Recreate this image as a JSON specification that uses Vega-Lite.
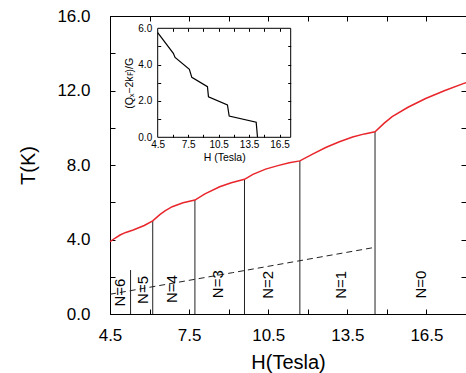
{
  "$schema": "https://vega.github.io/schema/vega-lite/v6.json",
  "width": 356,
  "height": 298,
  "autosize": {"type": "none"},
  "padding": {"left": 110, "top": 16, "right": 0, "bottom": 59},
  "background": "white",
  "config": {
    "view": {"stroke": null},
    "font": "Liberation Sans",
    "axis": {"grid": false, "domainColor": "black", "labelColor": "black", "titleColor": "black", "titleFontWeight": "normal", "labelFont": "Liberation Sans", "titleFont": "Liberation Sans"}
  },
  "datasets": {
    "curve": [
      {"H": 4.5, "T": 3.88}, {"H": 4.7, "T": 4.08}, {"H": 4.88, "T": 4.24}, {"H": 5.1, "T": 4.38},
      {"H": 5.38, "T": 4.51}, {"H": 5.8, "T": 4.75}, {"H": 6.12, "T": 5.0}, {"H": 6.4, "T": 5.35},
      {"H": 6.6, "T": 5.55}, {"H": 6.86, "T": 5.76}, {"H": 7.27, "T": 5.97}, {"H": 7.72, "T": 6.12},
      {"H": 8.1, "T": 6.45}, {"H": 8.66, "T": 6.83}, {"H": 9.1, "T": 7.05}, {"H": 9.6, "T": 7.23},
      {"H": 9.92, "T": 7.5}, {"H": 10.4, "T": 7.78}, {"H": 10.9, "T": 7.98}, {"H": 11.3, "T": 8.12},
      {"H": 11.7, "T": 8.22}, {"H": 12.2, "T": 8.6}, {"H": 12.7, "T": 8.95}, {"H": 13.2, "T": 9.25},
      {"H": 13.7, "T": 9.5}, {"H": 14.15, "T": 9.67}, {"H": 14.55, "T": 9.78}, {"H": 14.9, "T": 10.25},
      {"H": 15.2, "T": 10.6}, {"H": 15.8, "T": 11.1}, {"H": 16.47, "T": 11.57}, {"H": 17.2, "T": 12.0},
      {"H": 17.92, "T": 12.38}, {"H": 18.0, "T": 12.42}
    ],
    "bounds": [
      {"H": 5.28, "T": 2.36}, {"H": 6.12, "T": 5.0}, {"H": 7.72, "T": 6.12},
      {"H": 9.6, "T": 7.23}, {"H": 11.7, "T": 8.22}, {"H": 14.55, "T": 9.78}
    ],
    "dashed": [{"H": 4.5, "T": 1.06}, {"H": 9.15, "T": 2.22}, {"H": 14.55, "T": 3.58}],
    "labels": [
      {"H": 4.88, "T": 1.15, "label": "N=6"}, {"H": 5.74, "T": 1.29, "label": "N=5"},
      {"H": 6.86, "T": 1.34, "label": "N=4"}, {"H": 8.6, "T": 1.6, "label": "N=3"},
      {"H": 10.5, "T": 1.57, "label": "N=2"}, {"H": 13.26, "T": 1.57, "label": "N=1"},
      {"H": 16.3, "T": 1.58, "label": "N=0"}
    ],
    "inset": [
      {"H": 4.5, "Q": 5.76}, {"H": 6.04, "Q": 4.62}, {"H": 6.21, "Q": 4.4}, {"H": 7.62, "Q": 3.74},
      {"H": 7.86, "Q": 3.3}, {"H": 9.4, "Q": 2.79}, {"H": 9.5, "Q": 2.23}, {"H": 11.37, "Q": 1.78},
      {"H": 11.54, "Q": 1.17}, {"H": 14.2, "Q": 0.83}, {"H": 14.33, "Q": 0.0}
    ]
  },
  "resolve": {"scale": {"x": "independent", "y": "independent"}, "axis": {"x": "independent", "y": "independent"}},
  "layer": [
    {
      "data": {"name": "curve"},
      "mark": {"type": "point", "opacity": 0},
      "encoding": {
        "x": {
          "field": "H", "type": "quantitative",
          "scale": {"domain": [4.5, 18], "nice": false, "zero": false},
          "axis": {
            "orient": "bottom", "offset": -298, "title": null, "labels": false,
            "values": [4.5, 6, 7.5, 9, 10.5, 12, 13.5, 15, 16.5, 18],
            "tickSize": 5, "tickColor": "black"
          }
        },
        "y": {
          "field": "T", "type": "quantitative",
          "scale": {"domain": [0, 16], "nice": false, "zero": false},
          "axis": {
            "orient": "right", "offset": -356, "title": null, "labels": false,
            "values": [0, 2, 4, 6, 8, 10, 12, 14, 16],
            "tickSize": 5, "tickColor": "black"
          }
        }
      }
    },
    {
      "data": {"name": "curve"},
      "mark": {"type": "point", "opacity": 0},
      "encoding": {
        "x": {
          "field": "H", "type": "quantitative",
          "scale": {"domain": [4.5, 18], "nice": false, "zero": false},
          "axis": {
            "orient": "top", "offset": -298, "title": null, "labels": false, "domain": false,
            "values": [4.5, 6, 7.5, 9, 10.5, 12, 13.5, 15, 16.5, 18],
            "tickSize": 5, "tickColor": "black"
          }
        },
        "y": {
          "field": "T", "type": "quantitative",
          "scale": {"domain": [0, 16], "nice": false, "zero": false},
          "axis": {
            "orient": "left", "offset": -356, "title": null, "labels": false,
            "values": [0, 2, 4, 6, 8, 10, 12, 14, 16],
            "tickSize": 5, "tickColor": "black"
          }
        }
      }
    },
    {
      "layer": [
        {
          "data": {"name": "bounds"},
          "mark": {"type": "rule", "color": "#222", "strokeWidth": 1},
          "encoding": {
            "x": {"field": "H", "type": "quantitative"},
            "y": {"datum": 0},
            "y2": {"field": "T"}
          }
        },
        {
          "data": {"name": "dashed"},
          "mark": {"type": "line", "color": "#222", "strokeWidth": 1, "strokeDash": [6, 4]},
          "encoding": {
            "x": {"field": "H", "type": "quantitative"},
            "y": {"field": "T", "type": "quantitative"}
          }
        },
        {
          "data": {"name": "curve"},
          "mark": {"type": "line", "color": "#e8262b", "strokeWidth": 1.5},
          "encoding": {
            "x": {"field": "H", "type": "quantitative"},
            "y": {"field": "T", "type": "quantitative"}
          }
        },
        {
          "data": {"name": "labels"},
          "mark": {"type": "text", "angle": 270, "align": "center", "baseline": "middle", "fontSize": 15, "font": "Liberation Sans", "color": "black"},
          "encoding": {
            "x": {"field": "H", "type": "quantitative"},
            "y": {"field": "T", "type": "quantitative"},
            "text": {"field": "label"}
          }
        }
      ],
      "encoding": {
        "x": {
          "field": "H", "type": "quantitative",
          "scale": {"domain": [4.5, 18], "nice": false, "zero": false},
          "axis": {
            "orient": "bottom", "title": "H(Tesla)", "titleFontSize": 20, "titlePadding": 9,
            "values": [4.5, 7.5, 10.5, 13.5, 16.5],
            "format": ".1f",
            "labelFontSize": 17, "labelPadding": 13, "labelFlush": false, "labelOverlap": false,
            "ticks": false
          }
        },
        "y": {
          "field": "T", "type": "quantitative",
          "scale": {"domain": [0, 16], "nice": false, "zero": false},
          "axis": {
            "orient": "left", "title": "T(K)", "titleFontSize": 20, "titlePadding": 18,
            "values": [0, 4, 8, 12, 16],
            "format": ".1f",
            "labelFontSize": 17, "labelPadding": 20, "labelFlush": false, "labelOverlap": false,
            "ticks": false
          }
        }
      }
    },
    {
      "layer": [
        {
          "data": {"values": [{}]},
          "mark": {"type": "rect", "fill": "white", "stroke": "black", "strokeWidth": 1},
          "encoding": {
            "x": {"datum": 4.5, "type": "quantitative"},
            "x2": {"datum": 17.6},
            "y": {"datum": 0, "type": "quantitative"},
            "y2": {"datum": 6}
          }
        },
        {
          "data": {"name": "inset"},
          "mark": {"type": "line", "color": "black", "strokeWidth": 1.2},
          "encoding": {
            "x": {"field": "H", "type": "quantitative"},
            "y": {"field": "Q", "type": "quantitative"}
          }
        }
      ],
      "encoding": {
        "x": {
          "type": "quantitative",
          "scale": {"domain": [4.5, 17.6], "range": [47.7, 180.7], "nice": false, "zero": false},
          "axis": {
            "orient": "bottom", "offset": -176.7, "zindex": 2, "title": "H (Tesla)", "titleFontSize": 10.5, "titlePadding": 3,
            "values": [4.5, 7.5, 10.5, 13.5, 16.5],
            "format": ".1f",
            "labelFontSize": 10, "labelPadding": 2, "labelFlush": false, "labelOverlap": false,
            "ticks": false, "domain": false
          }
        },
        "y": {
          "type": "quantitative",
          "scale": {"domain": [0, 6], "range": [121.3, 12.3], "nice": false, "zero": false},
          "axis": {
            "orient": "left", "offset": -47.7, "zindex": 2, "title": "(Qₓ−2kꜰ)/G", "titleFontSize": 10.5, "titlePadding": 3,
            "values": [0, 2, 4, 6],
            "format": ".1f",
            "labelFontSize": 10, "labelPadding": 6, "labelFlush": false, "labelOverlap": false,
            "ticks": false, "domain": false
          }
        }
      }
    },
    {
      "data": {"name": "inset"},
      "mark": {"type": "point", "opacity": 0},
      "encoding": {
        "x": {
          "field": "H", "type": "quantitative",
          "scale": {"domain": [4.5, 17.6], "range": [47.7, 180.7], "nice": false, "zero": false},
          "axis": {
            "orient": "top", "offset": -121.3, "zindex": 2, "title": null, "labels": false, "domain": false,
            "values": [6, 7.5, 9, 10.5, 12, 13.5, 15, 16.5],
            "tickSize": 3, "tickColor": "black"
          }
        },
        "y": {
          "field": "Q", "type": "quantitative",
          "scale": {"domain": [0, 6], "range": [121.3, 12.3], "nice": false, "zero": false},
          "axis": {
            "orient": "right", "offset": -308.3, "zindex": 2, "title": null, "labels": false, "domain": false,
            "values": [1, 2, 3, 4, 5],
            "tickSize": 3, "tickColor": "black"
          }
        }
      }
    },
    {
      "data": {"name": "inset"},
      "mark": {"type": "point", "opacity": 0},
      "encoding": {
        "x": {
          "field": "H", "type": "quantitative",
          "scale": {"domain": [4.5, 17.6], "range": [47.7, 180.7], "nice": false, "zero": false},
          "axis": {
            "orient": "bottom", "offset": -285.7, "zindex": 2, "title": null, "labels": false, "domain": false,
            "values": [6, 7.5, 9, 10.5, 12, 13.5, 15, 16.5],
            "tickSize": 3, "tickColor": "black"
          }
        },
        "y": {
          "field": "Q", "type": "quantitative",
          "scale": {"domain": [0, 6], "range": [121.3, 12.3], "nice": false, "zero": false},
          "axis": {
            "orient": "left", "offset": -180.7, "zindex": 2, "title": null, "labels": false, "domain": false,
            "values": [1, 2, 3, 4, 5],
            "tickSize": 3, "tickColor": "black"
          }
        }
      }
    }
  ]
}
